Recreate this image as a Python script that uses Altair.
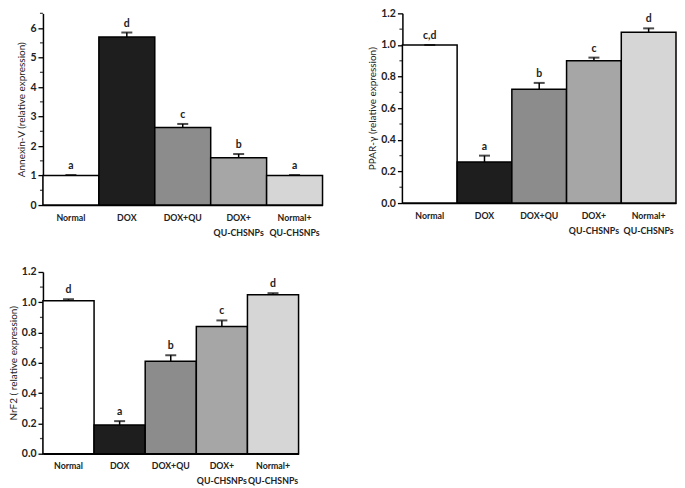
import altair as alt
import pandas as pd

groups = ["Normal", "DOX", "DOX+QU", "DOX+|QU-CHSNPs", "Normal+|QU-CHSNPs"]
fills = ["#ffffff", "#1e1e1e", "#8c8c8c", "#a6a6a6", "#d6d6d6"]

annexin_vals = [1.0, 5.7, 2.63, 1.6, 1.0]
annexin_err = [0.02, 0.15, 0.12, 0.13, 0.02]
annexin_sig = ["a", "d", "c", "b", "a"]
annexin_major = [0, 1, 2, 3, 4, 5, 6]
annexin_minor = [0.5, 1.5, 2.5, 3.5, 4.5, 5.5, 6.5]

ppar_vals = [1.0, 0.26, 0.72, 0.90, 1.08]
ppar_err = [0.0, 0.04, 0.04, 0.02, 0.025]
ppar_sig = ["c,d", "a", "b", "c", "d"]

nrf2_vals = [1.01, 0.19, 0.61, 0.84, 1.05]
nrf2_err = [0.01, 0.025, 0.04, 0.04, 0.01]
nrf2_sig = ["d", "a", "b", "c", "d"]

frac_major = [0, 0.2, 0.4, 0.6, 0.8, 1.0, 1.2]
frac_minor = [0.1, 0.3, 0.5, 0.7, 0.9, 1.1]

FONT = "Lato"


def panel(vals, errs, sig, title, ymax, major, minor, fmt, w, h):
    df = pd.DataFrame({
        "group": groups,
        "value": vals,
        "top": [v + e for v, e in zip(vals, errs)],
        "sig": sig,
    })
    x = alt.X(
        "group:N", sort=groups,
        scale=alt.Scale(paddingInner=0, paddingOuter=0),
        axis=alt.Axis(title=None, labelAngle=0, ticks=False,
                      labelExpr="split(datum.label, '|')",
                      labelFont=FONT, labelFontWeight="bold", labelFontSize=8.8,
                      labelColor="#222", labelPadding=8, labelLineHeight=15,
                      labelOverlap=False,
                      domainColor="black", domainWidth=1.5),
    )
    yscale = alt.Scale(domain=[0, ymax], nice=False, zero=True)
    y = alt.Y(
        "value:Q", scale=yscale,
        axis=alt.Axis(title=title, values=major, tickCount=50, format=fmt, grid=False,
                      labelOverlap=False, tickSize=5,
                      tickColor="black", tickWidth=1.3,
                      domainColor="black", domainWidth=1.5,
                      labelFont=FONT, labelFontWeight="bold", labelFontSize=10.5,
                      labelColor="#222", labelPadding=2,
                      titleFont=FONT, titleFontSize=10, titleFontWeight="normal",
                      titleColor="#222", titlePadding=3),
    )
    base = alt.Chart(df)
    bars = base.mark_bar(stroke="black", strokeWidth=1.5).encode(
        x=x, y=y,
        fill=alt.Fill("group:N", scale=alt.Scale(domain=groups, range=fills), legend=None),
    )
    err = base.mark_rule(color="black", strokeWidth=1.5).encode(
        x=alt.X("group:N", sort=groups), y=alt.Y("value:Q"), y2="top:Q")
    cap = base.mark_tick(color="black", size=11, thickness=2, orient="horizontal").encode(
        x=alt.X("group:N", sort=groups), y=alt.Y("top:Q"))
    txt = base.mark_text(dy=-9, font=FONT, fontWeight="bold", fontSize=10.5, color="#222").encode(
        x=alt.X("group:N", sort=groups), y=alt.Y("top:Q"), text="sig:N")
    minor_df = pd.DataFrame({"value": minor})
    minor_ticks = alt.Chart(minor_df).mark_tick(
        color="black", size=3, thickness=1.3, orient="horizontal"
    ).encode(x=alt.value(-1.5), y=alt.Y("value:Q"))
    return alt.layer(bars, err, cap, txt, minor_ticks).properties(width=w, height=h)


p1 = panel(annexin_vals, annexin_err, annexin_sig, "Annexin-V (relative expression)",
           6.5, annexin_major, annexin_minor, "d", 280, 192)
p2 = panel(ppar_vals, ppar_err, ppar_sig, "PPAR-γ (relative expression)",
           1.2, frac_major, frac_minor, ".1f", 274, 190)
p3 = panel(nrf2_vals, nrf2_err, nrf2_sig, "NrF2 ( relative expression)",
           1.2, frac_major, frac_minor, ".1f", 256, 182)

top = alt.hconcat(p1, p2, spacing=44)
chart = (
    alt.vconcat(top, p3, spacing=30)
    .properties(padding=0)
    .configure_view(stroke=None)
)

chart.save("out.html", embed_options={"renderer": "svg", "actions": False})
